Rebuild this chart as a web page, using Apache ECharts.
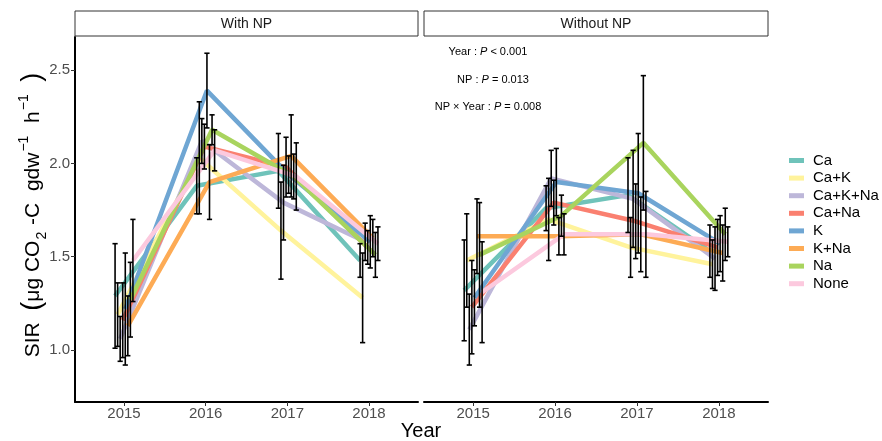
<!DOCTYPE html>
<html>
<head>
<meta charset="utf-8">
<script src="https://cdn.jsdelivr.net/npm/echarts@6/dist/echarts.min.js"></script>
<style>
html,body{margin:0;padding:0;background:#fff;}
#chart{width:882px;height:441px;}
</style>
</head>
<body>
<div id="chart"></div>
<script>
// ---------- data ----------
const years = [2015, 2016, 2017, 2018];
const groups = ['Ca', 'Ca+K', 'Ca+K+Na', 'Ca+Na', 'K', 'K+Na', 'Na', 'None'];
const panels = ['With NP', 'Without NP'];
const yTicks = [1.0, 1.5, 2.0, 2.5];

// With NP: means per year
const withNP_Ca      = [1.29, 1.88, 1.96, 1.48];
const withNP_CaK     = [1.19, 2.03, 1.64, 1.28];
const withNP_CaKNa   = [1.06, 2.12, 1.79, 1.58];
const withNP_CaNa    = [1.16, 2.09, 1.98, 1.55];
const withNP_K       = [1.22, 2.39, 1.94, 1.58];
const withNP_KNa     = [1.13, 1.90, 2.04, 1.60];
const withNP_Na      = [1.27, 2.18, 1.93, 1.51];
const withNP_None    = [1.48, 2.07, 1.93, 1.57];
// With NP: error half-widths
const withNP_Ca_err    = [0.28, 0.15, 0.20, 0.09];
const withNP_CaK_err   = [0.17, 0.30, 0.26, 0.24];
const withNP_CaKNa_err = [0.12, 0.12, 0.20, 0.10];
const withNP_CaNa_err  = [0.20, 0.12, 0.16, 0.09];
const withNP_K_err     = [0.30, 0.20, 0.10, 0.14];
const withNP_KNa_err   = [0.16, 0.20, 0.22, 0.10];
const withNP_Na_err    = [0.20, 0.08, 0.12, 0.12];
const withNP_None_err  = [0.22, 0.11, 0.18, 0.09];

// Without NP: means per year
const noNP_Ca      = [1.32, 1.76, 1.83, 1.53];
const noNP_CaK     = [1.48, 1.70, 1.55, 1.46];
const noNP_CaKNa   = [1.11, 1.92, 1.81, 1.49];
const noNP_CaNa    = [1.23, 1.79, 1.69, 1.55];
const noNP_K       = [1.28, 1.90, 1.84, 1.57];
const noNP_KNa     = [1.61, 1.61, 1.62, 1.52];
const noNP_Na      = [1.51, 1.72, 2.11, 1.62];
const noNP_None    = [1.31, 1.62, 1.62, 1.58];
// Without NP: error half-widths
const noNP_Ca_err    = [0.27, 0.12, 0.20, 0.14];
const noNP_CaK_err   = [0.25, 0.22, 0.16, 0.13];
const noNP_CaKNa_err = [0.19, 0.15, 0.26, 0.17];
const noNP_CaNa_err  = [0.25, 0.12, 0.20, 0.15];
const noNP_K_err     = [0.15, 0.18, 0.32, 0.15];
const noNP_KNa_err   = [0.20, 0.10, 0.20, 0.15];
const noNP_Na_err    = [0.28, 0.11, 0.36, 0.14];
const noNP_None_err  = [0.27, 0.11, 0.23, 0.08];

const colors = ['#6fc3ba', '#fff39c', '#bdb7d9', '#fa8070', '#6fa6d3', '#fdab55', '#a9d45e', '#fcc9de'];

// ---------- build ----------
const panelMeans = [
  [withNP_Ca, withNP_CaK, withNP_CaKNa, withNP_CaNa, withNP_K, withNP_KNa, withNP_Na, withNP_None],
  [noNP_Ca, noNP_CaK, noNP_CaKNa, noNP_CaNa, noNP_K, noNP_KNa, noNP_Na, noNP_None]
];
const panelErrs = [
  [withNP_Ca_err, withNP_CaK_err, withNP_CaKNa_err, withNP_CaNa_err, withNP_K_err, withNP_KNa_err, withNP_Na_err, withNP_None_err],
  [noNP_Ca_err, noNP_CaK_err, noNP_CaKNa_err, noNP_CaNa_err, noNP_K_err, noNP_KNa_err, noNP_Na_err, noNP_None_err]
];

const dodgeWidth = 0.25;
const nG = groups.length;
function dodge(i) { return (i - (nG - 1) / 2) * dodgeWidth / nG; }

const FONT = '"Liberation Sans", Arial, sans-serif';
const yMin = 0.722, yMax = 2.677;

const grids = [
  { left: 75, top: 37, width: 343, height: 365 },
  { left: 424, top: 37, width: 344, height: 365 }
];

const xAxes = [0, 1].map(p => ({
  type: 'value', gridIndex: p, min: 2014.4, max: 2018.6,
  axisLine: { show: true, lineStyle: { color: '#000', width: 2 } },
  axisTick: { show: true, customValues: years, length: 4, lineStyle: { color: '#333', width: 1 } },
  axisLabel: { show: true, customValues: years, fontSize: 15, color: '#4d4d4d', fontFamily: FONT, margin: 4,
               formatter: v => String(Math.round(v)) },
  splitLine: { show: false }
}));

const yAxes = [0, 1].map(p => ({
  type: 'value', gridIndex: p, min: yMin, max: yMax,
  axisLine: { show: p === 0, lineStyle: { color: '#000', width: 2 } },
  axisTick: { show: p === 0, customValues: yTicks, length: 4, lineStyle: { color: '#333', width: 1 } },
  axisLabel: { show: p === 0, customValues: yTicks, fontSize: 15, color: '#4d4d4d', fontFamily: FONT, margin: 5,
               formatter: v => Number(v).toFixed(1) },
  splitLine: { show: false }
}));

const series = [];
for (let p = 0; p < 2; p++) {
  for (let i = 0; i < nG; i++) {
    series.push({
      name: groups[i], type: 'line', xAxisIndex: p, yAxisIndex: p,
      data: years.map((yr, k) => [yr + dodge(i), panelMeans[p][i][k]]),
      showSymbol: false, symbol: 'none', silent: true,
      lineStyle: { color: colors[i], width: 4.5 },
      itemStyle: { color: colors[i] },
      z: 2
    });
  }
}
for (let p = 0; p < 2; p++) {
  const ebData = [];
  for (let i = 0; i < nG; i++) {
    years.forEach((yr, k) => {
      const m = panelMeans[p][i][k], e = panelErrs[p][i][k];
      ebData.push([yr + dodge(i), m - e, m + e]);
    });
  }
  series.push({
    type: 'custom', xAxisIndex: p, yAxisIndex: p, silent: true, z: 5,
    data: ebData,
    renderItem: function (params, api) {
      const lo = api.coord([api.value(0), api.value(1)]);
      const hi = api.coord([api.value(0), api.value(2)]);
      const hw = 2.6;
      const st = { stroke: '#000', lineWidth: 1.6 };
      return {
        type: 'group',
        children: [
          { type: 'line', shape: { x1: lo[0], y1: lo[1], x2: hi[0], y2: hi[1] }, style: st },
          { type: 'line', shape: { x1: lo[0] - hw, y1: lo[1], x2: lo[0] + hw, y2: lo[1] }, style: st },
          { type: 'line', shape: { x1: hi[0] - hw, y1: hi[1], x2: hi[0] + hw, y2: hi[1] }, style: st }
        ]
      };
    }
  });
}

const graphics = [];
// facet strips
grids.forEach((g, p) => {
  graphics.push({ type: 'rect', shape: { x: g.left, y: 11, width: g.width, height: 25 },
    style: { fill: '#fff', stroke: '#333', lineWidth: 1 }, z: 10 });
  graphics.push({ type: 'text', x: g.left + g.width / 2, y: 24, z: 11,
    style: { text: panels[p], fontSize: 14, fontFamily: FONT, fill: '#1a1a1a', align: 'center', verticalAlign: 'middle' } });
});
// stats annotation
const annot = [
  { pre: 'Year : ', post: ' < 0.001', x: 488, y: 52 },
  { pre: 'NP : ', post: ' = 0.013', x: 493, y: 80 },
  { pre: 'NP × Year : ', post: ' = 0.008', x: 488, y: 107 }
];
annot.forEach(a => {
  graphics.push({ type: 'text', x: a.x, y: a.y, z: 11,
    style: { text: a.pre + '{i|P}' + a.post, fontSize: 11, fontFamily: FONT, fill: '#000', align: 'center', verticalAlign: 'middle',
      rich: { i: { fontSize: 11, fontStyle: 'italic', fontFamily: FONT, fill: '#000' } } } });
});
// y-axis title
graphics.push({ type: 'text', x: 33, y: 215, rotation: Math.PI / 2, z: 11,
  style: {
    text: 'SIR  {p|(}μg CO{sub|2} -C  gdw{sup|−1}  h{sup|−1}  {p|)}',
    fontSize: 21, fontFamily: FONT, fill: '#000', align: 'center', verticalAlign: 'middle',
    rich: {
      p: { fontSize: 27, fontFamily: FONT, fill: '#000', lineHeight: 32 },
      sub: { fontSize: 14, fontFamily: FONT, fill: '#000', verticalAlign: 'bottom', lineHeight: 32, padding: [0, 1, 0, 1] },
      sup: { fontSize: 14, fontFamily: FONT, fill: '#000', verticalAlign: 'top', lineHeight: 32, padding: [0, 1, 0, 1] }
    },
    lineHeight: 32
  } });
// x-axis title
graphics.push({ type: 'text', x: 421, y: 431, z: 11,
  style: { text: 'Year', fontSize: 20, fontFamily: FONT, fill: '#000', align: 'center', verticalAlign: 'middle' } });

const option = {
  animation: false,
  backgroundColor: '#fff',
  grid: grids,
  xAxis: xAxes,
  yAxis: yAxes,
  legend: {
    orient: 'vertical', left: 784, top: 148,
    data: groups.map((g, i) => ({ name: g, icon: 'rect', itemStyle: { color: colors[i] } })),
    itemWidth: 15, itemHeight: 5, itemGap: 2.6,
    textStyle: { fontSize: 15, fontFamily: FONT, color: '#000', lineHeight: 15, padding: [0, 0, 0, 4] },
    selectedMode: false
  },
  series: series,
  graphic: graphics
};

const chart = echarts.init(document.getElementById('chart'), null, { renderer: 'canvas' });
chart.setOption(option);
</script>
</body>
</html>
